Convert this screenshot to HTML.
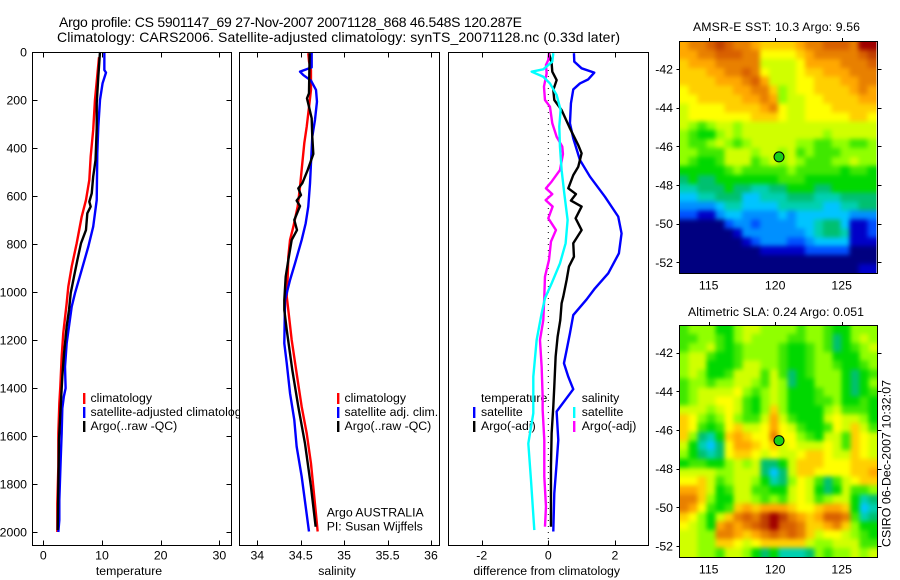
<!DOCTYPE html>
<html lang="en">
<head>
<meta charset="utf-8">
<title>Argo profile chart</title>
<style>
html,body{margin:0;padding:0;background:#fff;width:900px;height:580px;overflow:hidden}
svg{display:block}
text{font-family:"Liberation Sans",sans-serif;font-size:12.3px;fill:#000}
</style>
</head>
<body>
<svg id="chart" xmlns="http://www.w3.org/2000/svg" width="900" height="580" viewBox="0 0 900 580">
  <defs>
    <filter id="cellSoften" filterUnits="userSpaceOnUse" x="660" y="20" width="240" height="560" color-interpolation-filters="sRGB">
      <feGaussianBlur stdDeviation="2.4"/>
    </filter>
    <clipPath id="sstClip"><rect x="679.5" y="41.5" width="197" height="232"/></clipPath>
    <clipPath id="slaClip"><rect x="679.5" y="325.5" width="198" height="232"/></clipPath>
  </defs>
  <rect x="0" y="0" width="900" height="580" fill="#fff"/>
  <text x="59" y="27" style="font-size:14px" textLength="463" lengthAdjust="spacing">Argo profile: CS 5901147_69 27-Nov-2007 20071128_868 46.548S 120.287E</text>
  <text x="57" y="42" style="font-size:14px" textLength="563" lengthAdjust="spacing">Climatology: CARS2006. Satellite-adjusted climatology: synTS_20071128.nc (0.33d later)</text>
  <g id="layer"></g>
  <text x="693" y="31" textLength="167" lengthAdjust="spacing">AMSR-E SST: 10.3 Argo: 9.56</text>
  <text x="688" y="316" textLength="176" lengthAdjust="spacing">Altimetric SLA: 0.24 Argo: 0.051</text>
  <text transform="translate(890.7,547) rotate(-90)" textLength="167" lengthAdjust="spacing">CSIRO 06-Dec-2007 10:32:07</text>
</svg>
<script>
/* ---------- depth tick data ---------- */
const depthTicks = [0,200,400,600,800,1000,1200,1400,1600,1800,2000];
const tempTicks = [0,10,20,30];
const salTicks = [34,34.5,35,35.5,36];
const salTickLabels = ['34','34.5','35','35.5','36'];
const diffTicks = [-2,0,2];
const lonTicks = [115,120,125];
const latTicks = [-42,-44,-46,-48,-50,-52];

/* ---------- temperature panel ---------- */
const tempClimDepth = [22,200,325,436,533,617,686,797,894,978,1047,1172,1269,1394,1464,1589,1728,1881,2000];
const tempClimValue = [9.49,8.8,8.5,8.07,7.84,7.27,6.54,5.69,4.84,4.26,3.98,3.4,3.13,2.9,2.73,2.56,2.56,2.39,2.39];
const tempSatDepth = [0,75,86,130,200,311,422,617,672,728,811,908,1005,1061,1214,1311,1401,1436,1485,1589,1700,1867,1950,2000];
const tempSatValue = [10.4,10.4,10.68,10.1,9.66,9.37,9.2,9.1,8.8,8.5,7.67,6.54,5.4,4.84,3.98,3.7,3.8,3.5,3.24,3.13,2.96,2.73,2.73,2.56];
const tempArgoDepth = [0,103,214,318,450,519,589,624,644,672,742,797,867,936,1005,1075,1144,1256,1353,1478,1617,1811,1992];
const tempArgoValue = [9.66,9.37,9.1,9.1,8.9,8.5,8.25,7.84,8.07,7.5,7.27,6.42,5.8,5.23,4.67,4.38,3.98,3.53,3.24,2.96,2.67,2.56,2.45];

/* ---------- salinity panel ---------- */
const salClimDepth = [5,40,75,158,228,311,380,464,561,644,728,783,853,936,1019,1075,1200,1339,1478,1589,1714,1853,1998];
const salClimValue = [34.587,34.596,34.618,34.618,34.596,34.569,34.541,34.518,34.492,34.465,34.415,34.377,34.357,34.35,34.339,34.357,34.396,34.453,34.511,34.569,34.618,34.656,34.695];
const salSatDepth = [3,64,82,96,119,158,207,283,353,464,547,644,714,783,881,950,1033,1214,1297,1422,1533,1644,1769,1894,1998];
const salSatValue = [34.626,34.626,34.492,34.53,34.618,34.676,34.687,34.664,34.633,34.618,34.607,34.587,34.557,34.511,34.434,34.377,34.319,34.311,34.339,34.377,34.426,34.453,34.511,34.557,34.595];
const salArgoDepth = [5,172,193,228,276,353,425,492,547,568,596,619,642,700,742,783,867,936,1033,1075,1158,1325,1478,1631,1811,1978];
const salArgoValue = [34.603,34.595,34.572,34.595,34.626,34.633,34.645,34.58,34.518,34.472,34.503,34.453,34.492,34.426,34.457,34.396,34.357,34.327,34.311,34.311,34.339,34.403,34.472,34.549,34.618,34.672];

/* ---------- difference panel ---------- */
const diffTempSatDepth = [5,40,68,86,114,131,156,214,297,360,450,519,603,686,756,839,922,985,1031,1096,1172,1242,1297,1353,1405,1498,1617,1714,1839,1998];
const diffTempSatValue = [0.77,0.78,1.0,1.38,1.2,0.95,0.75,0.68,0.65,0.75,0.95,1.25,1.7,2.1,2.2,2.12,1.8,1.4,1.15,0.75,0.65,0.55,0.47,0.6,0.75,0.25,0.3,0.25,0.18,0.15];
const diffTempArgoDepth = [5,47,82,117,158,200,242,318,388,422,478,513,568,592,619,644,693,742,797,853,894,950,1019,1047,1117,1186,1269,1394,1478,1589,1728,1978];
const diffTempArgoValue = [0.02,0.1,0.12,0.25,0.15,0.18,0.4,0.65,0.9,1.0,0.9,0.75,0.6,0.83,0.68,1.0,0.82,1.0,0.75,0.77,0.62,0.55,0.45,0.4,0.36,0.28,0.22,0.18,0.15,0.1,0.08,0.08];
const diffSalSatDepth = [5,40,72,82,103,131,179,242,311,394,492,589,700,797,881,964,1026,1089,1200,1353,1505,1631,1783,1992];
const diffSalSatValue = [0.15,0.12,-0.15,-0.5,-0.15,0.05,0.25,0.37,0.33,0.35,0.4,0.48,0.58,0.52,0.35,0.1,-0.1,-0.2,-0.35,-0.45,-0.45,-0.6,-0.52,-0.42];
const diffSalArgoDepth = [5,33,54,89,144,200,228,297,353,394,425,492,540,568,592,617,644,693,742,790,867,936,1019,1117,1200,1311,1436,1491,1617,1769,1894,1978];
const diffSalArgoValue = [0.02,0,-0.07,-0.05,-0.13,-0.1,0.05,0.12,0.25,0.42,0.44,0.35,0.1,-0.07,0.12,-0.08,0.13,0,0.23,0.08,0.02,-0.1,-0.12,-0.15,-0.25,-0.2,-0.17,-0.17,-0.12,-0.12,-0.07,-0.1];

/* ---------- map data: profile position and colour level per cell ---------- */
const profileLon = [120.287];
const profileLat = [-46.548];
const sstLevels = [
[13,14,14,15,16,15,14,14,13,12,12,12,12,13,14,14,15,15,15,14,17,17],
[13,13,14,14,15,15,15,14,14,11,11,11,11,12,13,14,14,14,14,14,15,16],
[12,13,13,13,14,14,14,14,14,10,10,10,10,11,13,13,13,13,14,14,14,15],
[12,12,12,13,13,14,14,15,14,11,10,10,10,11,12,12,13,13,13,14,14,14],
[12,12,12,12,13,13,13,14,15,13,10,10,10,11,11,12,12,12,13,13,14,14],
[11,12,12,12,12,12,13,13,14,14,12,9,10,11,11,12,12,12,12,13,14,13],
[11,11,12,12,12,12,12,13,13,14,13,9,10,10,11,11,12,12,12,12,13,13],
[10,11,11,11,11,12,12,12,12,13,14,11,10,10,11,11,11,12,12,12,12,12],
[10,11,11,11,11,11,11,11,12,12,12,11,10,10,11,11,11,11,11,12,12,11],
[10,9,8,9,10,10,9,10,10,10,10,10,10,10,10,10,10,10,10,10,10,10],
[9,8,7,7,9,10,9,10,10,10,10,10,10,10,10,10,9,10,10,10,10,10],
[9,8,8,9,10,9,8,9,10,10,10,10,10,9,9,8,8,9,9,8,8,9],
[9,9,8,8,8,10,10,10,9,10,10,9,10,8,9,8,8,8,9,9,9,9],
[9,8,7,7,8,10,10,10,8,9,10,9,10,9,8,8,8,9,9,10,9,9],
[7,7,7,7,7,8,9,8,8,8,8,8,9,8,8,8,8,8,7,8,8,7],
[6,7,6,6,7,7,7,7,7,7,7,8,8,8,7,7,7,7,7,7,7,7],
[5,5,6,6,6,7,6,6,5,5,6,6,7,7,7,6,6,7,7,7,7,7],
[4,4,5,5,6,6,6,4,4,5,5,5,6,6,6,5,5,5,6,6,6,6],
[3,3,3,3,4,5,5,4,4,4,4,5,5,5,5,5,4,4,5,5,6,6],
[2,2,1,1,3,4,4,3,3,3,3,4,3,4,4,4,4,4,4,3,3,3],
[0,0,0,0,0,2,3,3,2,3,3,3,3,4,4,5,6,6,4,1,1,2],
[0,0,0,0,0,0,1,3,3,3,3,3,3,3,4,5,6,6,5,1,1,2],
[0,0,0,0,0,0,0,1,2,3,3,3,2,2,3,4,4,4,4,1,1,1],
[0,0,0,0,0,0,0,0,0,1,1,1,1,1,2,2,2,2,2,0,0,0],
[0,0,0,0,0,0,0,0,0,0,0,0,0,0,0,0,0,0,0,0,0,0],
[0,0,0,0,0,0,0,0,0,0,0,0,0,0,0,0,0,0,0,0,1,1]
];
const slaLevels = [
[8,9,9,9,7,7,9,10,10,9,9,9,9,8,9,9,8,7,7,9,9,9],
[8,8,9,9,8,7,9,10,9,9,9,9,8,8,9,9,8,6,7,9,10,9],
[8,9,9,10,8,7,8,9,9,9,9,8,7,7,8,9,8,6,7,8,9,10],
[9,10,10,8,7,7,8,9,9,9,9,8,7,7,8,9,9,7,7,7,9,9],
[9,10,10,7,7,7,8,10,10,9,9,8,7,7,8,9,9,8,7,7,8,9],
[9,10,9,7,7,8,10,10,10,8,10,8,6,7,8,9,9,9,7,6,7,8],
[8,9,9,8,9,9,10,10,9,8,10,9,6,7,7,9,9,9,7,6,7,9],
[8,9,10,10,10,10,11,9,8,9,10,9,7,7,7,8,9,9,7,6,7,8],
[8,9,10,10,11,11,10,8,7,9,10,9,7,7,7,8,8,9,7,7,8,7],
[10,10,10,9,10,11,10,8,7,9,12,9,7,7,7,7,9,10,8,8,8,7],
[12,11,9,8,9,11,9,8,8,10,13,10,8,7,7,7,10,11,10,10,9,7],
[12,11,8,7,8,11,12,10,10,11,13,11,10,8,7,7,8,11,10,12,10,8],
[12,9,6,5,7,12,13,12,11,11,14,11,11,9,8,7,10,10,8,12,11,10],
[10,7,5,4,6,11,13,13,12,11,12,10,11,10,10,10,11,10,8,12,11,10],
[9,7,6,5,6,11,12,12,11,10,11,10,10,11,12,12,11,10,10,12,11,10],
[7,8,8,7,7,9,10,9,10,6,6,7,10,12,12,12,11,11,11,12,12,12],
[10,10,10,10,9,9,10,10,10,6,4,6,10,12,12,11,11,11,11,12,12,13],
[11,11,12,10,8,9,10,10,9,7,5,6,9,11,10,8,6,8,10,11,12,12],
[13,13,12,10,7,8,10,10,8,8,7,7,10,11,10,7,6,7,10,8,8,9],
[14,14,12,9,7,7,10,10,9,8,9,8,10,11,10,8,9,10,10,7,5,6],
[14,13,11,8,7,8,12,13,12,13,13,13,12,11,11,12,13,13,12,7,4,5],
[12,11,9,7,10,12,14,15,14,16,17,16,14,13,12,13,15,15,14,8,5,6],
[11,10,9,7,13,14,13,14,15,16,17,15,15,14,12,12,13,14,12,9,7,7],
[10,10,9,9,14,14,13,12,13,14,15,14,15,14,12,10,11,11,10,9,8,7],
[10,10,9,9,12,12,11,10,11,12,12,12,12,12,10,9,9,10,10,10,8,8],
[10,10,9,9,8,10,10,9,7,6,7,5,5,5,6,9,8,9,9,10,9,10]
];
const cellPalette = ['#000080','#0000c8','#0050ff','#0090ff','#00c4ff','#00d0b0','#00c070','#00d800','#40e800','#90ff00','#d0ff00','#ffff00','#ffd000','#ffa800','#e88000','#d86000','#c04000','#a00000'];

/* ---------- axis functions ---------- */
const yDepth = d => 52 + d * 0.24;
const xTemp = v => 43.3 + v * 5.87;
const xSal = v => 257.3 + (v - 34) * 86.85;
const xDiff = v => 548.3 + v * 33.3;
const xLon = v => 708.7 + (v - 115) * 13.3;
const ySstLat = v => 69 + (-42 - v) * 19.33;
const ySlaLat = v => 352.7 + (-42 - v) * 19.33;

const NS = 'http://www.w3.org/2000/svg';
const layer = document.getElementById('layer');
function make(tag, attrs, text) {
  const el = document.createElementNS(NS, tag);
  for (const k in attrs) el.setAttribute(k, attrs[k]);
  if (text !== undefined) el.textContent = text;
  layer.appendChild(el);
  return el;
}
function seg(x1, y1, x2, y2, name) {
  const el = make('line', {x1: x1, y1: y1, x2: x2, y2: y2, stroke: '#000', 'stroke-width': 1, 'shape-rendering': 'crispEdges'});
  
  
  return el;
}
function label(x, y, str, anchor, name, extra) {
  const el = make('text', Object.assign({x: x, y: y, 'text-anchor': anchor}, extra || {}), str);
  
  
  return el;
}
function panelFrame(left, right, name) {
  const bg = make('rect', {x: left, y: 52, width: right - left, height: 493, fill: '#fff'});
  
  
}
function panelBorder(left, right, name) {
  const box = make('rect', {x: left, y: 52.5, width: right - left, height: 493, fill: 'none', stroke: '#000', 'stroke-width': 1, 'shape-rendering': 'crispEdges'});
  
  
}
function profile(depths, values, xf, color, name, width) {
  const pts = depths.map((d, i) => xf(values[i]).toFixed(2) + ',' + yDepth(d).toFixed(2)).join(' ');
  const el = make('polyline', {points: pts, fill: 'none', stroke: color, 'stroke-width': width || 2.4, 'stroke-linejoin': 'round'});
  
  
}
function legendBar(x, y, color, name) {
  const el = make('rect', {x: x - 1, y: y, width: 2.4, height: 11, fill: color});
  
  
}
function xTicks(ticks, labels, xf, panelName, baseline) {
  ticks.forEach((t, i) => {
    const x = Math.round(xf(t)) + 0.5;
    seg(x, 52.5, x, 57.5, panelName + '-top-tick');
    seg(x, 540.5, x, 545.5, panelName + '-bottom-tick');
    label(xf(t), baseline, labels[i], 'middle', panelName + '-x-tick-label');
  });
}

/* ---------- panel 1: temperature ---------- */
panelFrame(32.5, 231.5, 'temperature-panel');
label(90.5, 402, 'climatology', 'start', 'temperature-legend-climatology');
label(90.5, 416, 'satellite-adjusted climatology', 'start', 'temperature-legend-satellite');
label(90.5, 430, 'Argo(..raw -QC)', 'start', 'temperature-legend-argo');
legendBar(84, 393, '#ff0000', 'temperature-legend-swatch-climatology');
legendBar(84, 407, '#0000ff', 'temperature-legend-swatch-satellite');
legendBar(84, 421, '#000000', 'temperature-legend-swatch-argo');
profile(tempClimDepth, tempClimValue, xTemp, '#ff0000', 'temperature-climatology-line');
profile(tempSatDepth, tempSatValue, xTemp, '#0000ff', 'temperature-satellite-line');
profile(tempArgoDepth, tempArgoValue, xTemp, '#000000', 'temperature-argo-line');
panelBorder(32.5, 231.5, 'temperature-panel');
xTicks(tempTicks, tempTicks.map(String), xTemp, 'temperature', 559.3);
depthTicks.forEach(d => {
  const y = Math.round(yDepth(d)) + 0.5;
  if (d > 0) {
    seg(32.5, y, 37.5, y, 'depth-left-tick');
    seg(226.5, y, 231.5, y, 'depth-right-tick');
  }
  label(27, yDepth(d) + 4.3, String(d), 'end', 'depth-tick-label');
});
label(129, 575, 'temperature', 'middle', 'temperature-x-axis-title');

/* ---------- panel 2: salinity ---------- */
panelFrame(239.5, 439.5, 'salinity-panel');
label(344.5, 402, 'climatology', 'start', 'salinity-legend-climatology');
label(344.5, 416, 'satellite adj. clim.', 'start', 'salinity-legend-satellite');
label(344.5, 430, 'Argo(..raw -QC)', 'start', 'salinity-legend-argo');
legendBar(338, 393, '#ff0000', 'salinity-legend-swatch-climatology');
legendBar(338, 407, '#0000ff', 'salinity-legend-swatch-satellite');
legendBar(338, 421, '#000000', 'salinity-legend-swatch-argo');
label(326.7, 516.7, 'Argo AUSTRALIA', 'start', 'argo-program-note');
label(326.7, 530.7, 'PI: Susan Wijffels', 'start', 'principal-investigator-note');
profile(salClimDepth, salClimValue, xSal, '#ff0000', 'salinity-climatology-line');
profile(salSatDepth, salSatValue, xSal, '#0000ff', 'salinity-satellite-line');
profile(salArgoDepth, salArgoValue, xSal, '#000000', 'salinity-argo-line');
panelBorder(239.5, 439.5, 'salinity-panel');
xTicks(salTicks, salTickLabels, xSal, 'salinity', 559.3);
label(337, 575, 'salinity', 'middle', 'salinity-x-axis-title');

/* ---------- panel 3: difference ---------- */
panelFrame(448.5, 648.5, 'difference-panel');
const zero = make('line', {x1: xDiff(0), y1: 52, x2: xDiff(0), y2: 545, stroke: '#000', 'stroke-width': 1, 'stroke-dasharray': '1 5'});


label(481, 402, 'temperature', 'start', 'difference-legend-temperature-heading');
label(481, 416, 'satellite', 'start', 'difference-legend-temperature-satellite');
label(481, 430, 'Argo(-adj)', 'start', 'difference-legend-temperature-argo');
legendBar(474, 407, '#0000ff', 'difference-legend-swatch-temperature-satellite');
legendBar(474, 421, '#000000', 'difference-legend-swatch-temperature-argo');
label(581.7, 402, 'salinity', 'start', 'difference-legend-salinity-heading');
label(581.7, 416, 'satellite', 'start', 'difference-legend-salinity-satellite');
label(581.7, 430, 'Argo(-adj)', 'start', 'difference-legend-salinity-argo');
legendBar(574, 407, '#00ffff', 'difference-legend-swatch-salinity-satellite');
legendBar(574, 421, '#ff00ff', 'difference-legend-swatch-salinity-argo');
profile(diffTempSatDepth, diffTempSatValue, xDiff, '#0000ff', 'difference-temperature-satellite-line');
profile(diffTempArgoDepth, diffTempArgoValue, xDiff, '#000000', 'difference-temperature-argo-line');
profile(diffSalArgoDepth, diffSalArgoValue, xDiff, '#ff00ff', 'difference-salinity-argo-line');
profile(diffSalSatDepth, diffSalSatValue, xDiff, '#00ffff', 'difference-salinity-satellite-line');
panelBorder(448.5, 648.5, 'difference-panel');
xTicks(diffTicks, diffTicks.map(String), xDiff, 'difference', 559.3);
label(546.7, 575, 'difference from climatology', 'middle', 'difference-x-axis-title');

/* ---------- maps ---------- */
function drawMap(levels, yLat, top, bottom, right, tickBaseline, name, dotName, clipId) {
  const left = 679.5;
  const nr = levels.length, nc = levels[0].length;
  const latTop = -42 + (yLat(-42) - top) / 19.33;
  const lonLeft = 115 + (left - xLon(115)) / 13.3;
  const dLon = (right - left) / nc / 13.3;
  const dLat = (bottom - top) / nr / 19.33;
  const clipWrap = make('g', {'clip-path': 'url(#' + clipId + ')'});
  
  
  const cells = make('g', {filter: 'url(#cellSoften)'});
  
  
  clipWrap.appendChild(cells);
  levels.forEach((row, r) => row.forEach((v, c) => {
    let x0 = xLon(lonLeft + c * dLon), x1 = xLon(lonLeft + (c + 1) * dLon);
    let y0 = yLat(latTop - r * dLat), y1 = yLat(latTop - (r + 1) * dLat);
    if (c === 0) x0 -= 12;
    if (c === nc - 1) x1 += 12;
    if (r === 0) y0 -= 12;
    if (r === nr - 1) y1 += 12;
    const idx = Math.max(0, Math.min(cellPalette.length - 1, Math.round(v)));
    const cell = make('rect', {x: x0.toFixed(2), y: y0.toFixed(2), width: (x1 - x0 + 0.4).toFixed(2), height: (y1 - y0 + 0.4).toFixed(2), fill: cellPalette[idx], 'shape-rendering': 'crispEdges'});
    
    
    cells.appendChild(cell);
  }));
  const box = make('rect', {x: left, y: top + 0.5, width: 877.5 - left, height: bottom - top, fill: 'none', stroke: '#000', 'stroke-width': 1, 'shape-rendering': 'crispEdges'});
  
  
  lonTicks.forEach(t => {
    const x = Math.round(xLon(t)) + 0.5;
    seg(x, top - 3, x, top + 0.5, name + '-top-tick');
    label(xLon(t), tickBaseline, String(t), 'middle', name + '-longitude-label');
  });
  latTicks.forEach(t => {
    const y = Math.round(yLat(t)) + 0.5;
    seg(left - 3, y, left, y, name + '-left-tick');
    seg(877.5, y, 881.5, y, name + '-right-tick');
    label(673, yLat(t) + 4.5, String(t), 'end', name + '-latitude-label');
  });
  const dot = make('circle', {cx: xLon(profileLon[0]), cy: yLat(profileLat[0]), r: 5, fill: '#18d018', stroke: '#000', 'stroke-width': 1});
  
  
}
drawMap(sstLevels, ySstLat, 41, 273, 876.5, 289.3, 'sst-map', 'sst-profile-marker', 'sstClip');
drawMap(slaLevels, ySlaLat, 325, 557, 877.5, 573.3, 'sla-map', 'sla-profile-marker', 'slaClip');
</script>
</body>
</html>
